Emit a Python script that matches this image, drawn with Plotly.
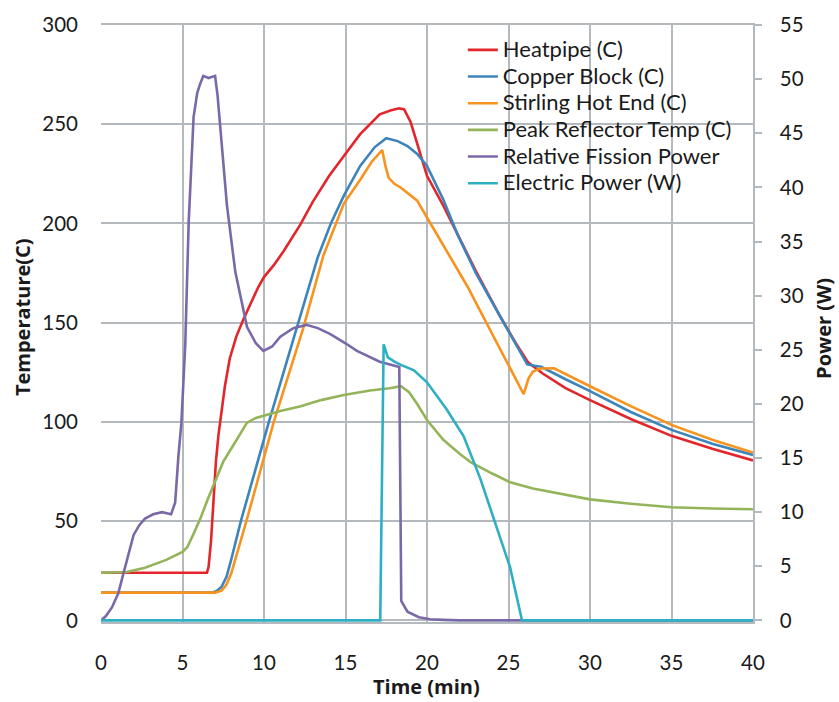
import plotly.graph_objects as go

# ---------------- data ----------------
heat_t = [0, 6.5, 6.6, 6.75, 6.9, 7.05, 7.2, 7.4, 7.6, 7.9, 8.3, 8.7, 9.2, 9.65, 10.0, 10.6, 11.2,
          12.2, 13.0, 14.0, 14.9, 15.9, 17.1, 17.8, 18.3, 18.6, 19.0, 19.5, 20.0, 21.0, 21.9, 23.0,
          24.5, 25.5, 26.2, 27.1, 28.5, 30, 32.5, 35, 37.5, 40]
heat_T = [24, 24, 27, 40, 60, 80, 93, 106, 118, 132, 143, 151, 160, 168, 173, 179, 186,
          199, 211, 224, 234, 245, 255, 257, 258, 257.5, 251, 238, 224, 209, 194, 176,
          153, 139, 130, 124.4, 117, 111, 101.5, 93, 86.5, 80.6]

copper_t = [0, 6.8, 7.1, 7.4, 7.7, 8.0, 8.58, 10.3, 11.6, 12.6, 13.3, 14.1, 14.9, 15.9, 16.8, 17.5,
            18.2, 18.8, 19.4, 20.0, 21.0, 21.9, 23.0, 24.5, 25.5, 26.15, 26.6, 27.0, 28.5, 30,
            32.5, 35, 37.5, 40]
copper_T = [14, 14, 14.8, 17, 22, 31, 50, 100, 136, 163, 183, 200, 214, 229, 238.5, 243,
            241.5, 239, 235, 229, 212, 194, 175, 153, 138.5, 129, 128.3, 127.8, 121.5, 115.5,
            105, 96, 89, 83.4]

stirling_t = [0, 7.0, 7.4, 7.7, 8.0, 8.4, 8.92, 10.6, 11.9, 12.4, 13.65, 14.9, 15.9, 16.6, 17.25,
              17.45, 17.65, 18.0, 18.4, 19.0, 19.4, 20.0, 21.4, 22.5, 23.07, 24.5, 25.93, 26.23,
              26.5, 26.95, 27.8, 30, 32.5, 35, 37.5, 40]
stirling_T = [14, 14, 15, 18, 24, 35, 50, 100, 134, 147, 184, 210, 222, 231, 237,
              229, 223, 220, 218, 214, 211.5, 203, 183, 168, 159, 136.6, 114, 122,
              125.4, 126.9, 127, 118, 108, 98.5, 91, 84.6]

reflector_t = [0, 1.5, 2.7, 4.0, 5.0, 5.3, 5.7, 6.1, 6.5, 6.9, 7.5, 8.1, 8.95, 9.5, 10.2, 11.0,
               12.2, 13.5, 14.9, 16.5, 17.7, 18.4, 18.9, 19.4, 20.0, 21.0, 22.0, 22.7, 24.0, 25.1,
               26.5, 28.2, 30, 32.5, 35, 37.5, 40]
reflector_T = [24, 24.3, 26.5, 30.5, 34.5, 37, 44, 51.4, 60, 68, 80, 88, 99.5, 102, 103.6, 105.5,
               107.8, 111, 113.6, 115.8, 117, 118, 115, 109, 101, 91, 84, 79.6, 74, 69.6,
               66.5, 63.7, 61, 58.8, 57, 56.4, 56]

fission_t = [0, 0.3, 0.67, 1.06, 1.37, 1.7, 2.0, 2.35, 2.7, 3.2, 3.75, 4.3, 4.55, 4.75, 4.93, 5.17,
             5.38, 5.68, 5.9, 6.09, 6.28, 6.6, 7.0, 7.15, 7.3, 7.73, 8.24, 8.96, 9.5, 9.96, 10.5,
             11.0, 11.8, 12.6, 13.3, 14.07, 15.0, 15.7, 17.1, 18.3, 18.42, 18.8, 19.5, 20.2, 21.0,
             22.0, 40]
fission_P = [0, 0.4, 1.2, 2.5, 4.3, 6.1, 7.9, 8.8, 9.4, 9.8, 10.0, 9.8, 10.9, 15.2, 18.2, 25.5,
             36.8, 46.5, 48.7, 49.6, 50.3, 50.1, 50.3, 48.5, 45.9, 38.3, 32.2, 27.1, 25.6, 24.9, 25.3,
             26.2, 27.0, 27.3, 27.0, 26.45, 25.6, 24.9, 23.9, 23.4, 1.8, 0.8, 0.3, 0.1, 0.05,
             0, 0]

electric_t = [0, 17.13, 17.34, 17.6, 18.0, 18.4, 19.2, 20.0, 21.2, 22.25, 23.27, 24.3, 25.1, 25.83, 40]
electric_P = [0, 0, 25.5, 24.3, 23.9, 23.6, 23.1, 22.0, 19.5, 17.0, 13.1, 8.5, 4.9, 0, 0]

x_ticks = [0, 5, 10, 15, 20, 25, 30, 35, 40]
temp_ticks = [0, 50, 100, 150, 200, 250, 300]
power_ticks = [0, 5, 10, 15, 20, 25, 30, 35, 40, 45, 50, 55]

# ---------------- figure ----------------
FONT = "Lato, 'Open Sans', sans-serif"
TFONT = "'Open Sans', Lato, sans-serif"
GRID = "#B4B9BD"
LW = 2.6

fig = go.Figure()
series = [
    ("Heatpipe (C)", heat_t, heat_T, "#E2262B", "y"),
    ("Copper Block (C)", copper_t, copper_T, "#3E84BC", "y"),
    ("Stirling Hot End (C)", stirling_t, stirling_T, "#F7931E", "y"),
    ("Peak Reflector Temp (C)", reflector_t, reflector_T, "#94B45A", "y"),
    ("Relative Fission Power", fission_t, fission_P, "#7A69A8", "y2"),
    ("Electric Power (W)", electric_t, electric_P, "#2EAFC3", "y2"),
]
for name, xs, ys, col, ax in series:
    fig.add_trace(go.Scatter(x=xs, y=ys, mode="lines", yaxis=ax,
                             name='<span style="font-size:22px">' + name + '</span>',
                             line=dict(color=col, width=LW, shape="linear")))

fig.update_layout(
    width=839, height=702,
    margin=dict(l=101, r=86, t=17, b=80),
    paper_bgcolor="white", plot_bgcolor="white",
    font=dict(family=FONT, size=20, color="#1a1a1a"),
    showlegend=True,
    legend=dict(x=0.555, y=0.989, xanchor="left", yanchor="top",
                bgcolor="rgba(0,0,0,0)", borderwidth=0,
                font=dict(family=FONT, size=18.2, color="#1a1a1a"),
                itemwidth=30, tracegroupgap=0),
    xaxis=dict(range=[0, 40], tickvals=x_ticks, showgrid=True, gridcolor=GRID, gridwidth=1.5,
               zeroline=False, showline=True, linecolor=GRID, linewidth=1.5, mirror=True,
               ticks="", ticklabelstandoff=22, tickfont=dict(size=20.5)),
    yaxis=dict(range=[-0.8, 300], tickvals=temp_ticks, showgrid=True, gridcolor=GRID, gridwidth=1.5,
               zeroline=False, showline=False, ticks="", ticklabelstandoff=22,
               tickfont=dict(size=20.5)),
    yaxis2=dict(range=[-0.8 * 55 / 300, 55], tickvals=power_ticks, overlaying="y", side="right",
                showgrid=False, zeroline=False, showline=True, linecolor=GRID, linewidth=1.5,
                ticks="outside", ticklen=7, tickcolor=GRID, tickwidth=1.5, ticklabelstandoff=14,
                tickfont=dict(size=20.5)),
    shapes=[dict(type="rect", xref="paper", yref="paper", layer="between",
                 x0=(437 - 101) / 652, x1=(751 - 101) / 652,
                 y0=(622 - 197) / 605, y1=(622 - 35) / 605,
                 fillcolor="white", line=dict(width=0))],
    annotations=[
        dict(text="<b>Time (min)</b>", xref="paper", yref="paper", x=(426 - 101) / 652,
             y=(622 - 687) / 605, xanchor="center", yanchor="middle", showarrow=False,
             font=dict(family=TFONT, size=20)),
        dict(text="<b>Temperature(C)</b>", xref="paper", yref="paper", x=(22 - 101) / 652,
             y=(622 - 313) / 605, xanchor="center", yanchor="middle", showarrow=False,
             textangle=-90, font=dict(family=TFONT, size=20)),
        dict(text="<b>Power (W)</b>", xref="paper", yref="paper", x=(824 - 101) / 652,
             y=(622 - 325) / 605, xanchor="center", yanchor="middle", showarrow=False,
             textangle=-90, font=dict(family=TFONT, size=20)),
    ],
)

fig.write_html("out.html")
